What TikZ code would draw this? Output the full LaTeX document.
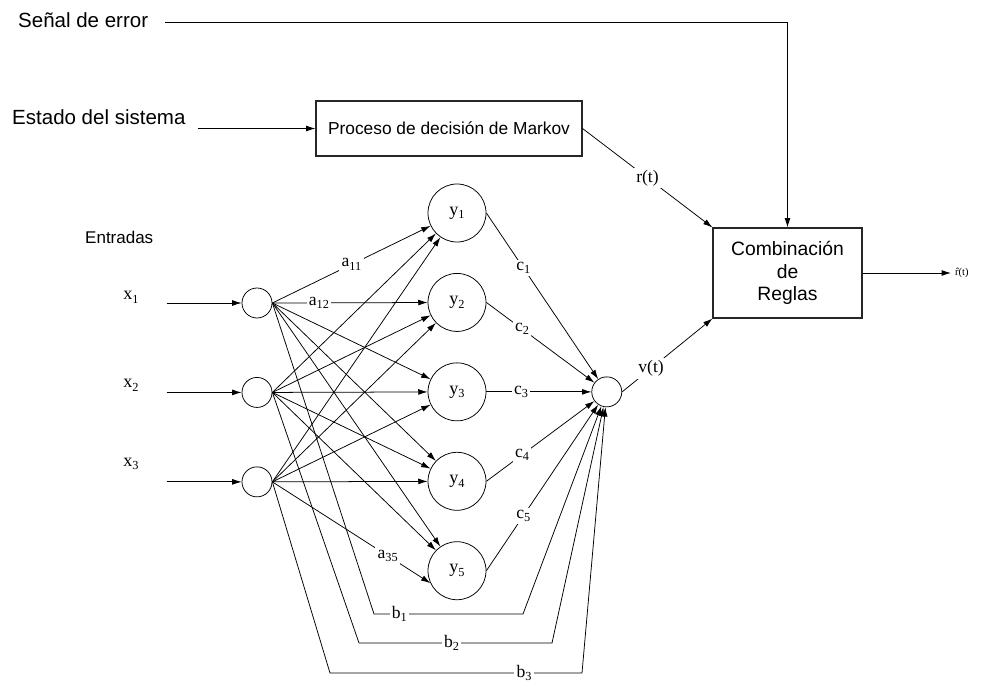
\documentclass[tikz,border=0pt]{standalone}
\usepackage{fontspec}
\setmainfont{Liberation Serif}
\setsansfont{Liberation Sans}
\usetikzlibrary{arrows.meta,positioning}
\newcommand{\lsub}[1]{\raisebox{-0.45ex}{\fontsize{10.5}{10.5}\selectfont #1}}
\tikzset{
  inode/.style={
    circle, draw, line width=0.65pt,
    minimum size=0.9cm, inner sep=0pt
  },
  hnode/.style={
    circle, draw, line width=0.65pt,
    minimum size=1.74cm, inner sep=0pt,
    font=\fontsize{15.5}{15.5}\selectfont
  },
  blockbox/.style={
    rectangle, draw=black!85, line width=0.9pt,
    align=center, inner sep=3pt
  },
  sigtext/.style={
    font=\sffamily\fontsize{17.5}{20}\selectfont, inner sep=0pt
  },
  wlabel/.style={
    fill=white, inner sep=2pt, font=\fontsize{15}{15}\selectfont
  },
  mlabel/.style={
    inner sep=0pt, font=\fontsize{15.5}{15.5}\selectfont
  },
  link/.style={
    -{Latex[length=8pt,width=5pt]}, line width=0.65pt
  },
}

\begin{document}
\begin{tikzpicture}[x=0.03cm, y=-0.03cm]
    \useasboundingbox (0,0) rectangle (982,682);

    % Signal texts on the left
    \node[sigtext, anchor=west] (err) at (18,20) {Señal de error};
    \node[sigtext, anchor=west] (est) at (12,117) {Estado del sistema};

    % Markov decision process and rule combination blocks
    \node[blockbox, minimum width=7.98cm, minimum height=1.65cm,
          font=\sffamily\fontsize{14.8}{17}\selectfont] (mdp) at (449,128.5) {Proceso de decisión de Markov};
    \node[blockbox, minimum width=4.47cm, minimum height=2.7cm,
          font=\sffamily\fontsize{16.5}{19.5}\selectfont] (comb) at (787.5,273) {Combinación\\de\\Reglas};
    \node[anchor=west, font=\fontsize{9}{9}\selectfont] (rhat) at (951,273) {\^{r}(t)};

    % Input layer
    \node[anchor=west, inner sep=0pt, font=\sffamily\fontsize{14.5}{16}\selectfont] (inputs) at (85,237) {Entradas};
    \node[inode] (x1) at (257,303) {};
    \node[inode, below=1.76cm of x1] (x2) {};
    \node[inode, below=1.76cm of x2] (x3) {};
    \node[mlabel] (lx1) at (131,297) {x\lsub{1}};
    \node[mlabel] (lx2) at (131,385) {x\lsub{2}};
    \node[mlabel] (lx3) at (131,464) {x\lsub{3}};

    % Hidden layer
    \node[hnode] (y1) at (457,213) {y\lsub{1}};
    \node[hnode, below=0.92cm of y1] (y2) {y\lsub{2}};
    \node[hnode, below=0.92cm of y2] (y3) {y\lsub{3}};
    \node[hnode, below=0.92cm of y3] (y4) {y\lsub{4}};
    \node[hnode, below=0.92cm of y4] (y5) {y\lsub{5}};

    % Summing node
    \node[inode, right=3.15cm of y3] (sum) {};

    % Corners of the direct b links
    \coordinate (b1a) at (374,614); \coordinate (b1b) at (523,614);
    \coordinate (b2a) at (359,643); \coordinate (b2b) at (552,643);
    \coordinate (b3a) at (330,673); \coordinate (b3b) at (582,673);

    % Upper signal arrows
    \draw[link] (err.east) ++(17,2) -| (comb.north);
    \draw[link] (est.east |- mdp.west) ++(12,0) -- (mdp.west);
    \draw[link] (mdp.east) -- node[wlabel] {r(t)} (comb.north west);
    \draw[link] (sum.east) -- node[wlabel, pos=0.32] {v(t)} (comb.south west);
    \draw[link] (comb.east) -- (rhat.west);

    % Inputs into the first layer
    \foreach \i in {1,2,3}
      \draw[link] (x\i.west) ++(-75,0) -- (x\i.west);

    % Weights a_ij
    \draw[link] (x1.east) -- node[wlabel] {a\lsub{11}} (y1);
    \draw[link] (x1.east) -- node[wlabel, pos=0.3] {a\lsub{12}} (y2);
    \draw[link] (x3.east) -- node[wlabel, pos=0.73] {a\lsub{35}} (y5.205);
    \foreach \i/\j in {1/3,1/4,1/5,2/1,2/2,2/3,2/4,2/5,3/1,3/2,3/3,3/4}
      \draw[link] (x\i.east) -- (y\j);

    % Weights c_j into the summing node
    \foreach \j in {1,...,5}
      \draw[link] (y\j.east) -- node[wlabel, pos=0.33] {c\lsub{\j}} (sum);

    % Direct links b_i
    \draw[link] (x1.east) -- (b1a) -- node[wlabel, pos=0.17] {b\lsub{1}} (b1b) -- (sum);
    \draw[link] (x2.east) -- (b2a) -- node[wlabel, pos=0.48] {b\lsub{2}} (b2b) -- (sum);
    \draw[link] (x3.east) -- (b3a) -- node[wlabel, pos=0.77] {b\lsub{3}} (b3b) -- (sum);
\end{tikzpicture}
\end{document}
